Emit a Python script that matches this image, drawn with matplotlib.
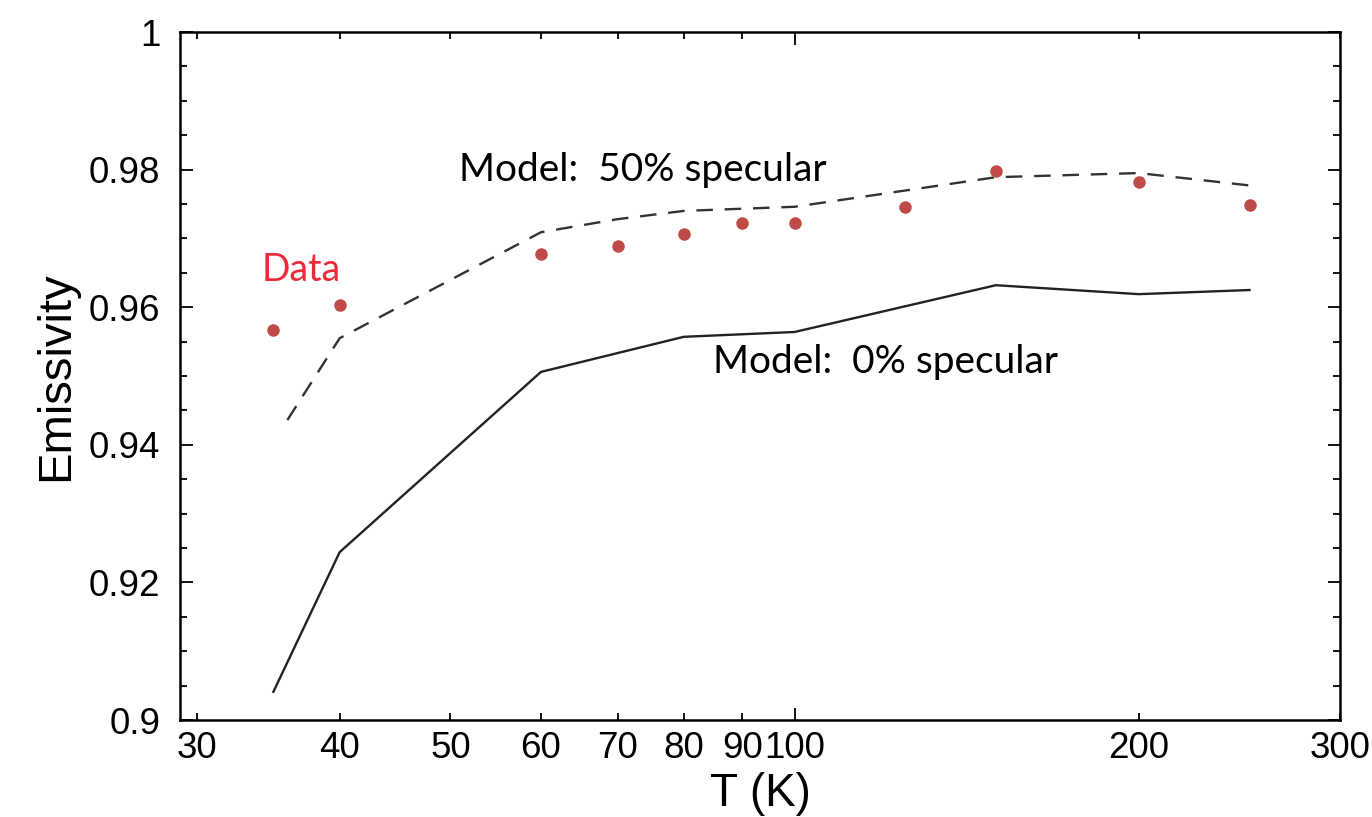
import numpy as np
import matplotlib.pyplot as plt
from matplotlib.ticker import FixedLocator, FixedFormatter, NullFormatter, MultipleLocator

# measured emissivity
T_data = [35, 40, 60, 70, 80, 90, 100, 125, 150, 200, 250]
eps_data = [0.9567, 0.9603, 0.9677, 0.9689, 0.9706, 0.9722, 0.9722, 0.9745, 0.9798, 0.9782, 0.9748]

# model, 50% specular (dashed)
T_spec50 = [36, 40, 60, 70, 80, 100, 150, 200, 250]
eps_spec50 = [0.9436, 0.9555, 0.9709, 0.9728, 0.9740, 0.9746, 0.9789, 0.9795, 0.9777]

# model, 0% specular (solid)
T_spec0 = [35, 40, 60, 80, 100, 150, 200, 250]
eps_spec0 = [0.9041, 0.9244, 0.9506, 0.9557, 0.9564, 0.9632, 0.9619, 0.9625]

x_major = [100]
x_minor = [30, 40, 50, 60, 70, 80, 90, 200, 300]
x_minor_labels = ['30', '40', '50', '60', '70', '80', '90', '200', '300']
y_ticks = [0.9, 0.92, 0.94, 0.96, 0.98, 1.0]
y_labels = ['0.9', '0.92', '0.94', '0.96', '0.98', '1']

plt.rcParams['font.family'] = ['Liberation Sans', 'DejaVu Sans']

fig = plt.figure(figsize=(13.72, 8.17), dpi=100)
ax = fig.add_axes([0.1312, 0.1187, 0.8455, 0.8421])

ax.plot(T_spec0, eps_spec0, color='#222222', lw=1.7)
ax.plot(T_spec50, eps_spec50, color='#333333', lw=1.7, linestyle=(0, (7, 5)))
ax.plot(T_data, eps_data, 'o', color='#bf4a47', markersize=9, markeredgewidth=0)

ax.set_xscale('log')
ax.set_xlim(29, 300)
ax.set_ylim(0.9, 1.0)

ax.xaxis.set_major_locator(FixedLocator(x_major))
ax.xaxis.set_major_formatter(FixedFormatter(['100']))
ax.xaxis.set_minor_locator(FixedLocator(x_minor))
ax.xaxis.set_minor_formatter(FixedFormatter(x_minor_labels))

ax.yaxis.set_major_locator(FixedLocator(y_ticks))
ax.yaxis.set_major_formatter(FixedFormatter(y_labels))
ax.yaxis.set_minor_locator(MultipleLocator(0.005))

ax.tick_params(which='both', direction='in', top=True, right=True, labelsize=26.5, width=1.3)
ax.tick_params(which='major', length=9)
ax.tick_params(which='minor', length=5)
ax.tick_params(axis='x', which='both', pad=8)
ax.tick_params(axis='y', which='both', pad=14)

for s in ax.spines.values():
    s.set_linewidth(1.8)

ax.set_xlabel('T (K)', fontsize=33, labelpad=4)
ax.set_ylabel('Emissivity', fontsize=34, labelpad=8)

ax.text(50.9, 0.9799, 'Model:  50% specular', fontsize=28, family=['Lato', 'DejaVu Sans'],
        va='center', ha='left', color='black')
ax.text(84.9, 0.9520, 'Model:  0% specular', fontsize=28, family=['Lato', 'DejaVu Sans'],
        va='center', ha='left', color='black')
ax.text(34.2, 0.9654, 'Data', fontsize=27, family=['Lato', 'DejaVu Sans'],
        va='center', ha='left', color='#ec2a3a')

fig.savefig('out.png', dpi=100)
